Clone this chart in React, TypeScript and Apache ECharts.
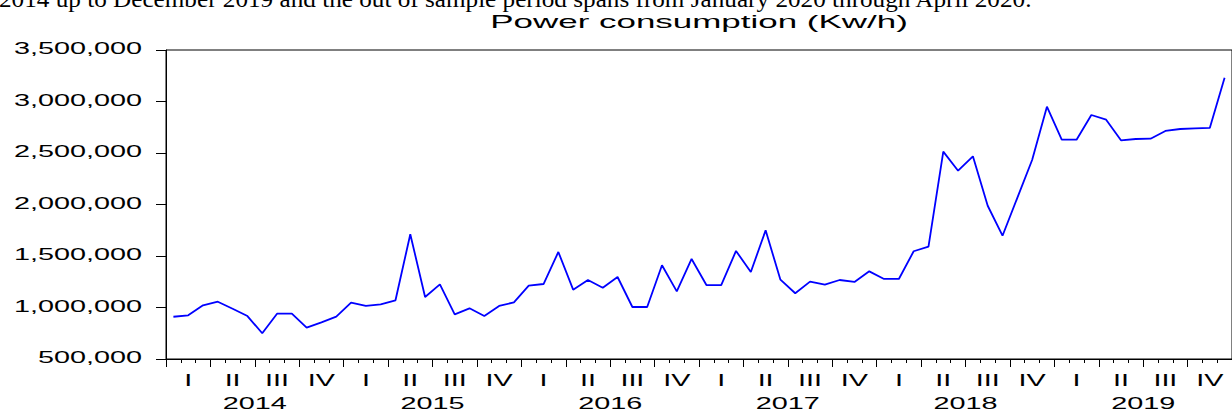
import React, { useEffect, useRef } from "react";
import * as echarts from "echarts";

// ---- data ----
const years: string[] = ["2014", "2015", "2016", "2017", "2018", "2019"];
const quarterLabels: string[] = ["I", "II", "III", "IV"];
const yTicks: number[] = [500000, 1000000, 1500000, 2000000, 2500000, 3000000, 3500000];
const yTickLabels: string[] = ["500,000", "1,000,000", "1,500,000", "2,000,000", "2,500,000", "3,000,000", "3,500,000"];

// monthly power consumption, Jan 2014 .. Dec 2019
const consumption2014: number[] = [910000, 924000, 1021000, 1056000, 988000, 917000, 750000, 940000, 940000, 804000, 856000, 911000];
const consumption2015: number[] = [1047000, 1015000, 1031000, 1070000, 1711000, 1102000, 1225000, 934000, 992000, 917000, 1015000, 1050000];
const consumption2016: number[] = [1212000, 1228000, 1539000, 1173000, 1267000, 1192000, 1296000, 1005000, 1005000, 1410000, 1157000, 1471000];
const consumption2017: number[] = [1218000, 1218000, 1549000, 1345000, 1749000, 1270000, 1138000, 1251000, 1222000, 1267000, 1248000, 1351000];
const consumption2018: number[] = [1277000, 1277000, 1546000, 1590000, 2513000, 2328000, 2468000, 1988000, 1697000, 2065000, 2432000, 2950000];
const consumption2019: number[] = [2629000, 2629000, 2869000, 2823000, 2623000, 2636000, 2639000, 2714000, 2733000, 2740000, 2743000, 3231000];
const consumption: number[] = [
  ...consumption2014, ...consumption2015, ...consumption2016,
  ...consumption2017, ...consumption2018, ...consumption2019,
];

const titleText = "Power consumption (Kw/h)";
const captionText =
  "2014 up to December 2019 and the out of sample period spans from January 2020 through April 2020.";

const SANS = '"Liberation Sans", Arial, Helvetica, sans-serif';
const SERIF = '"Liberation Serif", "Times New Roman", serif';
const STRETCH = 1.8;

export default function App() {
  const ref = useRef<HTMLDivElement>(null);

  useEffect(() => {
    if (!ref.current) return;
    const chart = echarts.init(ref.current, null, { renderer: "svg" });
    const months = consumption.length;

    chart.setOption({
      animation: false,
      grid: {
        left: 166,
        top: 50,
        width: 1068,
        height: 309,
        show: true,
        borderColor: "#000",
        borderWidth: 1,
        backgroundColor: "transparent",
      },
      xAxis: {
        type: "value",
        min: 0,
        max: months,
        interval: 3,
        axisLine: { show: true, onZero: false, lineStyle: { color: "#000", width: 1 } },
        axisTick: { show: true, length: 8, lineStyle: { color: "#000", width: 1 } },
        minorTick: { show: true, splitNumber: 3, length: 4, lineStyle: { color: "#000", width: 1 } },
        axisLabel: { show: false },
        splitLine: { show: false },
        minorSplitLine: { show: false },
      },
      yAxis: {
        type: "value",
        min: yTicks[0],
        max: yTicks[yTicks.length - 1],
        interval: 500000,
        axisLine: { show: true, lineStyle: { color: "#000", width: 1 } },
        axisTick: { show: true, length: 10, lineStyle: { color: "#000", width: 1 } },
        axisLabel: { show: false },
        splitLine: { show: false },
      },
      series: [
        {
          type: "line",
          data: consumption.map((v, i) => [i + 0.5, v]),
          symbol: "none",
          showSymbol: false,
          lineStyle: { color: "#0000ff", width: 1.8 },
          z: 3,
        },
      ],
    });

    const px = (x: number, y: number) =>
      chart.convertToPixel({ xAxisIndex: 0, yAxisIndex: 0 }, [x, y]) as number[];

    const bottomY = px(0, yTicks[0])[1];
    const leftX = px(0, yTicks[0])[0];

    const graphics: any[] = [];

    yTicks.forEach((t, i) => {
      const p = px(0, t);
      graphics.push({
        type: "text",
        x: leftX - 24,
        y: p[1] - 1,
        scaleX: STRETCH,
        silent: true,
        style: {
          text: yTickLabels[i],
          fontSize: 16,
          fontFamily: SANS,
          fill: "#000",
          align: "right",
          verticalAlign: "middle",
        },
      });
    });

    for (let q = 0; q < months / 3; q++) {
      const p = px(q * 3 + 1.5, yTicks[0]);
      graphics.push({
        type: "text",
        x: p[0],
        y: bottomY + 22,
        scaleX: STRETCH,
        silent: true,
        style: {
          text: quarterLabels[q % 4],
          fontSize: 16,
          fontFamily: SANS,
          fill: "#000",
          align: "center",
          verticalAlign: "middle",
        },
      });
    }

    years.forEach((yr, i) => {
      const p = px(i * 12 + 6, yTicks[0]);
      graphics.push({
        type: "text",
        x: p[0],
        y: bottomY + 45,
        scaleX: STRETCH,
        silent: true,
        style: {
          text: yr,
          fontSize: 16,
          fontFamily: SANS,
          fill: "#000",
          align: "center",
          verticalAlign: "middle",
        },
      });
    });

    const mid = px(months / 2, yTicks[0]);
    graphics.push({
      type: "text",
      x: mid[0],
      y: 22,
      scaleX: 1.84,
      silent: true,
      style: {
        text: titleText,
        fontSize: 19,
        fontFamily: SANS,
        fill: "#000",
        align: "center",
        verticalAlign: "middle",
      },
    });

    graphics.push({
      type: "text",
      x: -1,
      y: 11,
      scaleX: 1.05,
      silent: true,
      style: {
        text: captionText,
        fontSize: 24,
        fontFamily: SERIF,
        fill: "#000",
        align: "left",
        verticalAlign: "bottom",
      },
    });

    chart.setOption({ graphic: graphics });

    return () => {
      chart.dispose();
    };
  }, []);

  return (
    <div
      ref={ref}
      style={{ position: "fixed", left: 0, top: 0, width: 1232, height: 412, background: "#fff" }}
    />
  );
}
